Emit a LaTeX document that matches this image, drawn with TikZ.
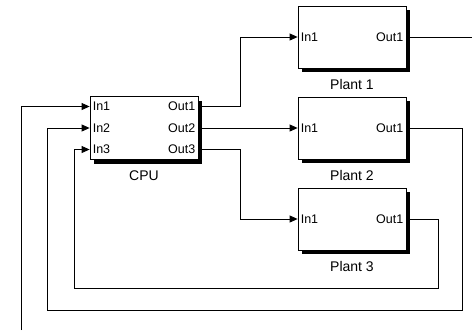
\documentclass[tikz,border=0pt]{standalone}
\usepackage{fontspec}
\setmainfont{Liberation Sans}
\usepackage{tikz}
\usetikzlibrary{arrows.meta, positioning, calc, shadows}

\tikzset{
    block/.style={draw, fill=white, line width=0.8pt, minimum width=108pt, minimum height=62pt, inner sep=0pt,
        drop shadow={shadow xshift=4pt, shadow yshift=-4pt, fill=black, opacity=1}},
    port/.style={font=\fontsize{12.5}{14}\selectfont, inner xsep=3pt, inner ysep=1pt},
    blockname/.style={font=\fontsize{14}{16}\selectfont, inner sep=1pt},
    wire/.style={line width=0.8pt},
    feed/.style={wire, -{Triangle[length=8pt, width=7pt]}}
}

\begin{document}
\begin{tikzpicture}[x=1pt, y=-1pt]
    \useasboundingbox (0,0) rectangle (472,330);

    % Controller and the three plants
    \node[block, minimum height=63pt] (cpu) at (144,128) {};
    \node[block] (plant1) at (352,37) {};
    \node[block] (plant2) at (352,128) {};
    \node[block] (plant3) at (352,219) {};

    \node[blockname, below=10pt of cpu] (cpu-name) {CPU};
    \node[blockname, below=10pt of plant1] (plant1-name) {Plant 1};
    \node[blockname, below=10pt of plant2] (plant2-name) {Plant 2};
    \node[blockname, below=10pt of plant3] (plant3-name) {Plant 3};

    % Ports
    \node[port, anchor=west] (cpu-in1) at ([yshift=21.5pt]cpu.west) {In1};
    \node[port, anchor=west] (cpu-in2) at (cpu.west) {In2};
    \node[port, anchor=west] (cpu-in3) at ([yshift=-21.5pt]cpu.west) {In3};
    \node[port, anchor=east] (cpu-out1) at ([yshift=21.5pt]cpu.east) {Out1};
    \node[port, anchor=east] (cpu-out2) at (cpu.east) {Out2};
    \node[port, anchor=east] (cpu-out3) at ([yshift=-21.5pt]cpu.east) {Out3};
    \foreach \p in {1,2,3} {
        \node[port, anchor=west] (plant\p-in) at (plant\p.west) {In1};
        \node[port, anchor=east] (plant\p-out) at (plant\p.east) {Out1};
    }

    % Forward paths
    \draw[feed] (cpu-out1.east) -- ++(42,0) |- (plant1-in.west);
    \draw[feed] (cpu-out2.east) -- (plant2-in.west);
    \draw[feed] (cpu-out3.east) -- ++(42,0) |- (plant3-in.west);

    % Outside signals
    \coordinate (sysout) at (472,37);
    \coordinate (sysin) at (21,330);
    \draw[wire] (plant1-out.east) -- (sysout);
    \draw[feed] (sysin) |- (cpu-in1.west);

    % Feedback loops
    \draw[feed] (plant2-out.east) -- ++(56,0) |- (47,310) |- (cpu-in2.west);
    \draw[feed] (plant3-out.east) -- ++(32,0) |- (74,288) |- (cpu-in3.west);
\end{tikzpicture}
\end{document}
